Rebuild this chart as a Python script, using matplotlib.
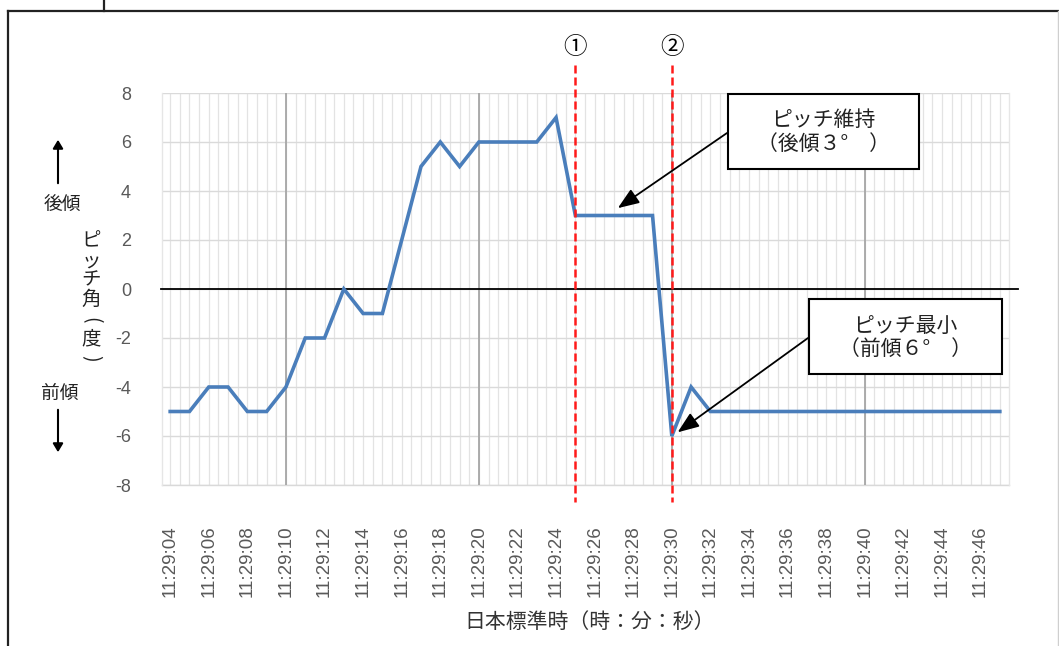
import matplotlib
matplotlib.use("Agg")
import matplotlib.pyplot as plt
from matplotlib.patches import Rectangle, FancyArrowPatch
from matplotlib.lines import Line2D
import numpy as np

# ---------------- data ----------------
start_time = "11:29:04"
pitch = [-5, -5, -4, -4, -5, -5, -4, -2, -2, 0,
         -1, -1, 2, 5, 6, 5, 6, 6, 6, 6,
         7, 3, 3, 3, 3, 3, -6, -4, -5, -5,
         -5, -5, -5, -5, -5, -5, -5, -5, -5, -5,
         -5, -5, -5, -5]
event_times = ["11:29:25", "11:29:30"]
event_labels = ["①", "②"]
y_ticks = [-8, -6, -4, -2, 0, 2, 4, 6, 8]
note_texts = [("ピッチ維持", "（後傾３°　）"), ("ピッチ最小", "（前傾６°　）")]
note_targets_t = ["11:29:27.2", "11:29:30.3"]
note_targets_y = [3.3, -5.85]
x_label = "日本標準時（時：分：秒）"
y_label_chars = ["ピ", "ッ", "チ", "角", "(", "度", ")"]
up_label = "後傾"
down_label = "前傾"


def to_sec(s):
    h, m, sec = s.split(":")
    return int(h) * 3600 + int(m) * 60 + float(sec)


t0 = to_sec(start_time)
t = np.arange(len(pitch))
tick_pos = t[::2]
tick_labels = []
for v in tick_pos:
    total = int(t0 + v)
    tick_labels.append("%02d:%02d:%02d" % (total // 3600, (total % 3600) // 60, total % 60))

# ---------------- fonts ----------------
jp = ["Noto Sans CJK JP", "DejaVu Sans"]
plt.rcParams["font.family"] = jp

W, H = 1059, 646
fig = plt.figure(figsize=(W / 100, H / 100), dpi=100)


def fx(px):
    return px / W


def fy(py):
    return 1 - py / H


left, right, top, bottom = 161.5, 1008.5, 93, 485
ax = fig.add_axes([fx(left), fy(bottom), fx(right) - fx(left), fy(top) - fy(bottom)])

ax.set_xlim(-0.45, len(pitch) - 1 + 0.45)
ax.set_ylim(-8, 8)

# grid
for v in np.arange(0, len(pitch) - 0.5, 0.5):
    ax.axvline(v, color="#e3e3e3", lw=0.9, zorder=0)
for yv in y_ticks:
    ax.axhline(yv, color="#dadada", lw=1.0, zorder=0)
for v in t:
    if int(t0 + v) % 10 == 0:
        ax.axvline(v, color="#a6a6a6", lw=1.3, zorder=0.5)

for s in ax.spines.values():
    s.set_visible(False)
ax.plot([-0.45, len(pitch) - 1 + 0.45], [-8, -8], color="#d9d9d9", lw=1.0, zorder=0.4, clip_on=False)
ax.plot([-0.45, -0.45], [-8, 8], color="#e6e6e6", lw=1.0, zorder=0.4, clip_on=False)
ax.plot([len(pitch) - 1 + 0.45] * 2, [-8, 8], color="#e6e6e6", lw=1.0, zorder=0.4, clip_on=False)

# zero line (axis)
ax.plot([-0.5, len(pitch) - 1 + 0.95], [0, 0], color="black", lw=1.3, zorder=2, clip_on=False)

# data line
ax.plot(t, pitch, color="#4a7ebb", lw=2.6, zorder=4, solid_joinstyle="miter")

# ticks
ax.set_yticks(y_ticks)
ax.set_yticklabels([str(v) for v in y_ticks], fontsize=13, color="#595959",
                   fontfamily="Liberation Sans")
ax.set_xticks(tick_pos)
ax.set_xticklabels(tick_labels, rotation=90, fontsize=13.5, color="#595959",
                   fontfamily="Liberation Sans")
ax.tick_params(axis="y", length=0, pad=22)
ax.tick_params(axis="x", length=0, pad=29)

# event lines
for et, lab in zip(event_times, event_labels):
    xv = to_sec(et) - t0
    ax.plot([xv, xv], [9.15, -8.7], color="#ff1a1a", lw=1.8, ls=(0, (3.2, 1.6)),
            zorder=5, clip_on=False)
    ax.text(xv, 9.85, lab, ha="center", va="center", fontsize=17, color="black",
            fontfamily=jp)

# annotation boxes
boxes = [(728, 94, 919, 169), (809, 299, 1002, 374)]
arrow_starts = [(727, 133), (808, 338)]
for (x0, y0, x1, y1), (l1, l2), (asx, asy), tt, ty in zip(
        boxes, note_texts, arrow_starts, note_targets_t, note_targets_y):
    fig.patches.append(Rectangle((fx(x0), fy(y1)), fx(x1) - fx(x0), fy(y0) - fy(y1),
                                 transform=fig.transFigure, facecolor="white",
                                 edgecolor="black", lw=1.5, zorder=10))
    cx = (x0 + x1) / 2
    cy = (y0 + y1) / 2
    fig.text(fx(cx), fy(cy - 11), l1, ha="center", va="center", fontsize=15,
             color="#222222", zorder=11)
    fig.text(fx(cx), fy(cy + 12), l2, ha="center", va="center", fontsize=15,
             color="#222222", zorder=11)
    ax.annotate("", xy=(to_sec(tt) - t0, ty), xycoords="data",
                xytext=(fx(asx), fy(asy)), textcoords="figure fraction",
                arrowprops=dict(arrowstyle="-|>,head_length=1.3,head_width=0.5",
                                color="black", lw=1.3, shrinkA=0, shrinkB=0),
                zorder=9, annotation_clip=False)

# y label stacked vertically (brackets turned for vertical writing)
ys = [241, 261, 280, 299, 320, 339, 358]
for ch, yy in zip(y_label_chars, ys):
    rot = -90 if ch in "()" else 0
    fig.text(fx(91), fy(yy), ch, ha="center", va="center", fontsize=14,
             color="#222222", rotation=rot)

fig.text(fx(62), fy(205), up_label, ha="center", va="center", fontsize=13.5, color="#222222")
fig.text(fx(60), fy(393), down_label, ha="center", va="center", fontsize=13.5, color="#222222")
fig.patches.append(FancyArrowPatch(
    (fx(58), fy(186)), (fx(58), fy(137)), transform=fig.transFigure,
    arrowstyle="-|>,head_length=5,head_width=3", color="black", lw=1.5))
fig.patches.append(FancyArrowPatch(
    (fx(58), fy(407)), (fx(58), fy(455)), transform=fig.transFigure,
    arrowstyle="-|>,head_length=5,head_width=3", color="black", lw=1.5))

# x label
fig.text(fx(590), fy(622), x_label, ha="center", va="center", fontsize=15, color="#333333")

# outer frame
fig.lines.append(Line2D([fx(8), 1], [fy(11), fy(11)], transform=fig.transFigure,
                        color="#222222", lw=1.6))
fig.lines.append(Line2D([fx(8), fx(8)], [fy(11), 0], transform=fig.transFigure,
                        color="#222222", lw=1.6))
fig.lines.append(Line2D([fx(104), fx(104)], [1, fy(11)], transform=fig.transFigure,
                        color="#222222", lw=1.6))
fig.lines.append(Line2D([fx(1058), fx(1058)], [fy(11), 0], transform=fig.transFigure,
                        color="#cfcfcf", lw=1.0))

fig.savefig("out.png", dpi=100)
